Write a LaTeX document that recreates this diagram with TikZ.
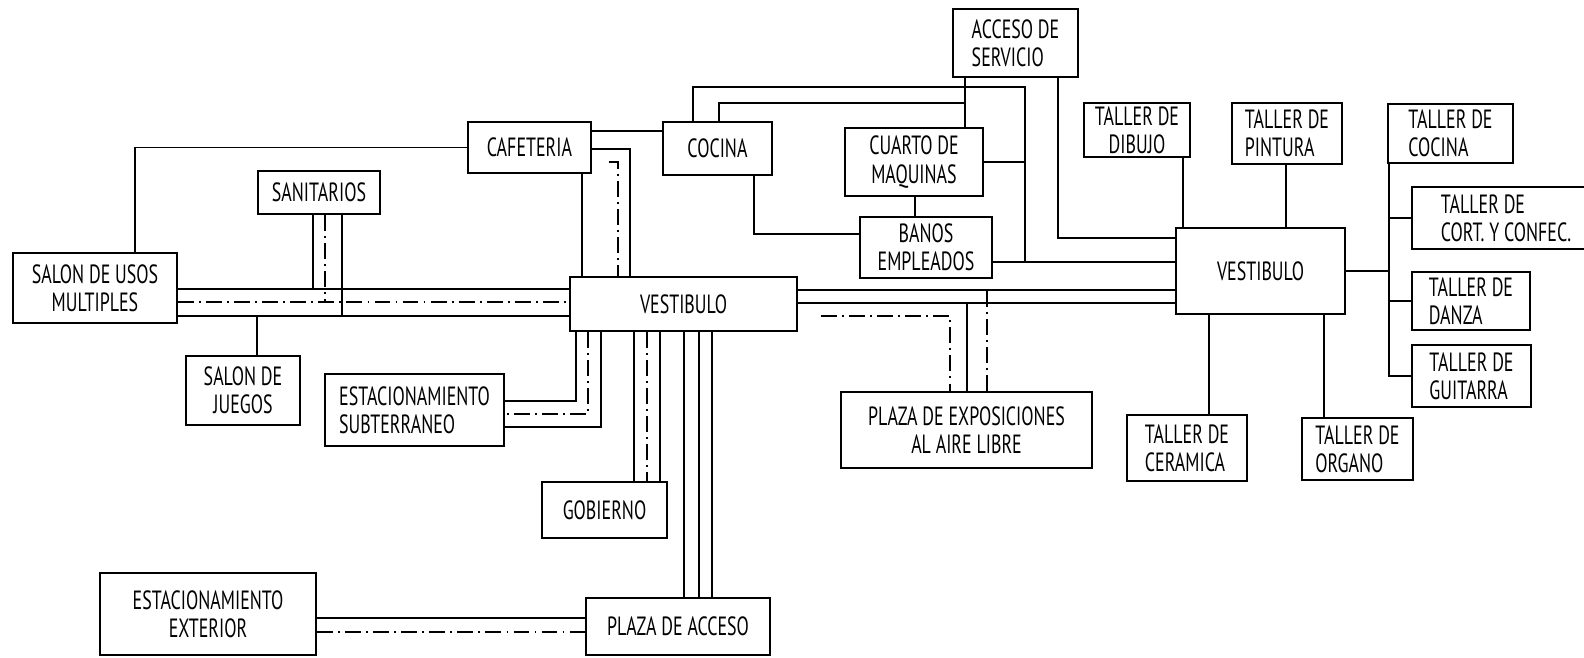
\documentclass[tikz,border=0pt]{standalone}
\usepackage{fontspec}
\setmainfont{PT Sans}[FakeStretch=0.68]
\usetikzlibrary{calc}
\tikzset{
  room/.style={draw,line width=0.8pt,inner sep=0pt,align=center,font=\fontsize{15}{16}\selectfont},
  lroom/.style={room,align=left},
  wall/.style={line width=0.9pt},
  cline/.style={line width=0.7pt,dash pattern=on 9pt off 3pt on 1pt off 3pt},
}

\begin{document}
\begin{tikzpicture}[x=0.2mm,y=-0.2mm]
  \fill[white] (0,0) rectangle (1584,658);
  \useasboundingbox (0,0) rectangle (1584,658);
  % rooms
  \node[room,minimum width=32.8mm,minimum height=14mm] (usos) at (95,288) {SALON DE USOS\\MULTIPLES};
  \node[room,minimum width=24.4mm,minimum height=8.6mm] (sanit) at (319,192.5) {SANITARIOS};
  \node[room,minimum width=22.8mm,minimum height=13.8mm] (juegos) at (243,390.5) {SALON DE\\JUEGOS};
  \node[room,minimum width=24.6mm,minimum height=10.2mm] (cafe) at (529.5,147.5) {CAFETERIA};
  \node[room,minimum width=21.8mm,minimum height=10.6mm] (cocina) at (717.5,148.5) {COCINA};
  \node[lroom,minimum width=25mm,minimum height=13.6mm] (acceso) at (1015.5,43) {ACCESO DE\\SERVICIO};
  \node[room,minimum width=27.6mm,minimum height=13.6mm] (cuarto) at (914,162) {CUARTO DE\\MAQUINAS};
  \node[room,minimum width=26.4mm,minimum height=12.2mm] (banos) at (926,247.5) {BANOS\\EMPLEADOS};
  \node[room,minimum width=45.4mm,minimum height=10.8mm] (vest) at (683.5,304) {VESTIBULO};
  \node[lroom,minimum width=35.8mm,minimum height=14.4mm] (estsub) at (414.5,410) {ESTACIONAMIENTO\\SUBTERRANEO};
  \node[room,minimum width=25mm,minimum height=11.2mm] (gob) at (604.5,510) {GOBIERNO};
  \node[room,minimum width=43.2mm,minimum height=16.4mm] (estext) at (208,614) {ESTACIONAMIENTO\\EXTERIOR};
  \node[room,minimum width=36.8mm,minimum height=11.4mm] (pacc) at (678,626.5) {PLAZA DE ACCESO};
  \node[room,minimum width=50.2mm,minimum height=15.2mm] (pexpo) at (966.5,430) {PLAZA DE EXPOSICIONES\\AL AIRE LIBRE};
  \node[room,minimum width=33.8mm,minimum height=17.2mm] (vest2) at (1260.5,271) {VESTIBULO};
  \node[room,minimum width=21.2mm,minimum height=10.8mm] (tdib) at (1137,130) {TALLER DE\\DIBUJO};
  \node[lroom,minimum width=22mm,minimum height=12.2mm] (tpin) at (1287,133.5) {TALLER DE\\PINTURA};
  \node[lroom,minimum width=25mm,minimum height=11.8mm] (tcoc) at (1450.5,133.5) {TALLER DE\\COCINA};
  \node[lroom,minimum width=37.6mm,minimum height=12.4mm] (tcort) at (1506,218) {TALLER DE\\CORT. Y CONFEC.};
  \node[lroom,minimum width=23.6mm,minimum height=11.6mm] (tdan) at (1471,301) {TALLER DE\\DANZA};
  \node[lroom,minimum width=23.8mm,minimum height=12.4mm] (tgui) at (1471.5,376) {TALLER DE\\GUITARRA};
  \node[lroom,minimum width=24mm,minimum height=13.2mm] (tcer) at (1187,448) {TALLER DE\\CERAMICA};
  \node[lroom,minimum width=22.2mm,minimum height=12.4mm] (torg) at (1357.5,449) {TALLER DE\\ORGANO};
  \coordinate (jk) at (1025,262);
  \coordinate (ja) at (965,103);
  % left wing
  \draw[wall] (usos.north -| 135,0) |- (cafe.west);
  \draw[wall] (usos.east |- 0,289) -- (vest.west |- 0,289);
  \draw[cline] (usos.east |- 0,302) -- (vest.west |- 0,302);
  \draw[wall] (usos.east |- 0,316) -- (vest.west |- 0,316);
  \draw[wall] (sanit.south -| 313,0) -- ++(0,75);
  \draw[cline] (sanit.south -| 325,0) -- ++(0,88);
  \draw[wall] (sanit.south -| 342,0) -- ++(0,102);
  \draw[wall] (juegos.north -| 257,0) -- ++(0,-40);
  % cafeteria and service
  \draw[wall] (cafe.east |- 0,131) -- (cocina.west |- 0,131);
  \draw[wall] (cafe.south -| 582,0) -- (vest.north -| 582,0);
  \draw[wall] (cafe.east |- 0,149) -| (vest.north -| 630,0);
  \draw[cline] ($(cafe.east |- 0,162)+(17,0)$) -| (vest.north -| 618,0);
  \draw[wall] (cocina.north -| 693,0) |- (jk |- 0,87) -- (jk);
  \draw[wall] (cocina.north -| 719,0) |- (ja);
  \draw[wall] (acceso.south -| ja) -- (cuarto.north -| ja);
  \draw[wall] (cocina.south -| 754,0) |- (banos.west |- 0,234);
  \draw[wall] (cuarto.south -| 915,0) -- (banos.north -| 915,0);
  \draw[wall] (cuarto.east |- 0,162) -- (jk |- 0,162);
  \draw[wall] (banos.east |- jk) -- (vest2.west |- jk);
  \draw[wall] (acceso.south -| 1058,0) |- (vest2.west |- 0,238);
  % between the two halls
  \draw[wall] (vest.east |- 0,290) -- (vest2.west |- 0,290);
  \draw[wall] (vest.east |- 0,303) -- (vest2.west |- 0,303);
  \draw[cline] ($(vest.east |- 0,316)+(23,0)$) -| (pexpo.north -| 950,0);
  \draw[wall] (pexpo.north -| 967,0) -- ++(0,-89);
  \draw[cline] (pexpo.north -| 987,0) -- ++(0,-102);
  % workshops
  \draw[wall] (tdib.south -| 1183,0) -- (vest2.north -| 1183,0);
  \draw[wall] (tpin.south -| 1286,0) -- (vest2.north -| 1286,0);
  \draw[wall] (vest2.south -| 1209,0) -- (tcer.north -| 1209,0);
  \draw[wall] (vest2.south -| 1324,0) -- (torg.north -| 1324,0);
  \draw[wall] (vest2.east) -- (vest2.east -| 1389,0);
  \draw[wall] (tcoc.south -| 1389,0) |- (tgui.west);
  \draw[wall] (tcort.west -| 1389,0) -- (tcort.west);
  \draw[wall] (tdan.west -| 1389,0) -- (tdan.west);
  % lower part
  \draw[wall] (vest.south -| 576,0) |- (estsub.east |- 0,401);
  \draw[cline] (vest.south -| 588,0) |- (estsub.east |- 0,414);
  \draw[wall] (vest.south -| 601,0) |- (estsub.east |- 0,427);
  \foreach \x/\s in {634/wall,647/cline,660/wall}
    \draw[\s] (vest.south -| \x,0) -- (gob.north -| \x,0);
  \foreach \x in {684,699,712}
    \draw[wall] (vest.south -| \x,0) -- (pacc.north -| \x,0);
  \draw[wall] (estext.east |- 0,618) -- (pacc.west |- 0,618);
  \draw[cline] (estext.east |- 0,632) -- (pacc.west |- 0,632);
\end{tikzpicture}
\end{document}
